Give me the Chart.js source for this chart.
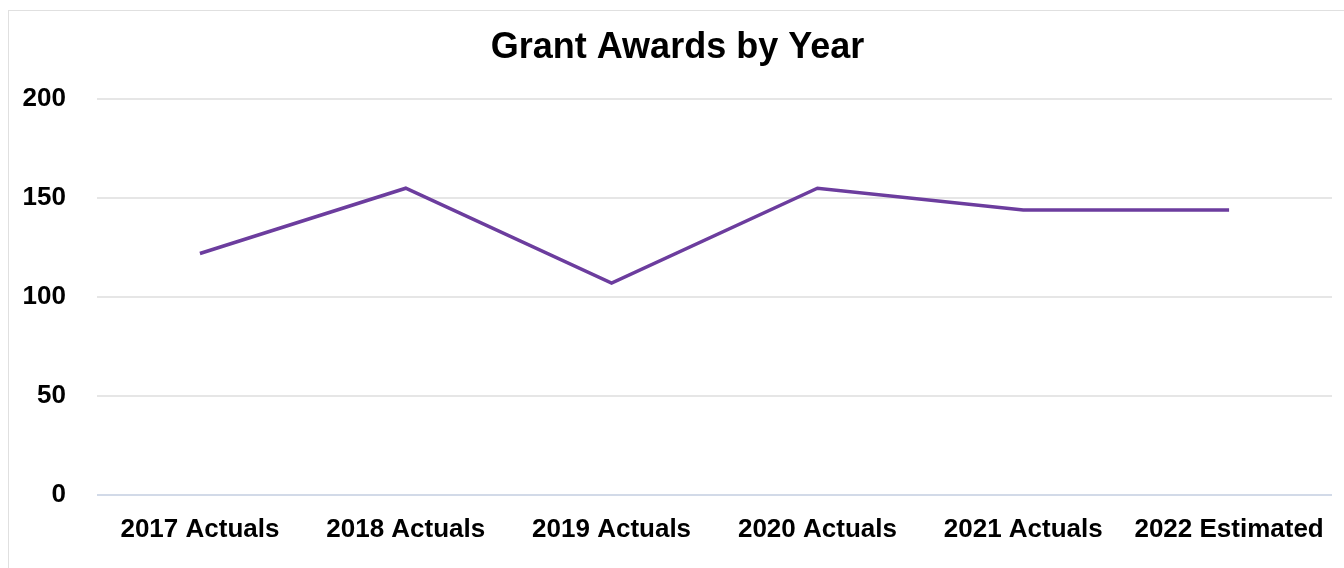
<!DOCTYPE html>
<html>
<head>
<meta charset="utf-8">
<script src="https://cdn.jsdelivr.net/npm/chart.js@4/dist/chart.umd.min.js"></script>
<style>
  body { margin: 0; background: #fff; overflow: hidden; }
  #wrap {
    position: absolute; left: 8px; top: 10px;
    width: 1345px; height: 570px;
    border: 1px solid #e0e0e0; box-sizing: border-box;
  }
  canvas { display: block; }
</style>
</head>
<body>
<div id="wrap"><canvas id="grantChart" width="1343" height="568"></canvas></div>
<script>
// Grant awards per fiscal year
const years = ['2017 Actuals', '2018 Actuals', '2019 Actuals', '2020 Actuals', '2021 Actuals', '2022 Estimated'];
const awards = [122, 155, 107, 155, 144, 144];
const yTicks = [0, 50, 100, 150, 200];

const ctx = document.getElementById('grantChart').getContext('2d');
new Chart(ctx, {
    type: 'line',
    data: {
        labels: years,
        datasets: [{
            label: 'Grant Awards',
            data: awards,
            borderColor: '#6c3d9e',
            borderWidth: 3.5,
            pointRadius: 0,
            tension: 0,
            fill: false
        }]
    },
    options: {
        responsive: false,
        animation: false,
        layout: { padding: { left: 14, right: 20, top: 8, bottom: 15 } },
        plugins: {
            legend: { display: false },
            tooltip: { enabled: false },
            title: {
                display: true,
                text: 'Grant Awards by Year',
                color: '#000',
                font: { family: 'Liberation Sans, Arial, sans-serif', size: 36, weight: 'bold' },
                padding: { top: 7, bottom: 30 }
            }
        },
        scales: {
            x: {
                offset: true,
                grid: { display: false, drawTicks: false },
                border: { display: false },
                ticks: {
                    color: '#000',
                    padding: 19,
                    maxRotation: 0,
                    autoSkip: false,
                    font: { family: 'Liberation Sans, Arial, sans-serif', size: 26, weight: 'bold' }
                }
            },
            y: {
                min: yTicks[0],
                max: yTicks[yTicks.length - 1],
                afterBuildTicks: axis => { axis.ticks = yTicks.map(v => ({ value: v })); },
                afterFit: axis => { axis.width = 74; },
                grid: {
                    drawTicks: false,
                    lineWidth: 2,
                    color: c => c.tick.value === 0 ? '#d2dae8' : '#e6e6e6'
                },
                border: { display: false },
                ticks: {
                    color: '#000',
                    padding: 31,
                    font: { family: 'Liberation Sans, Arial, sans-serif', size: 26, weight: 'bold' }
                }
            }
        }
    }
});
</script>
</body>
</html>
